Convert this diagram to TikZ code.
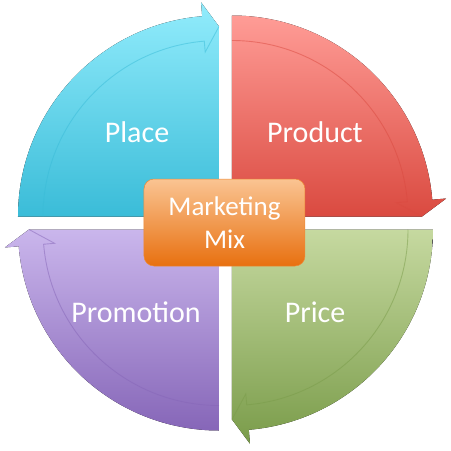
\documentclass[tikz,border=0pt]{standalone}
\usepackage{fontspec}
\setmainfont{Carlito}

\definecolor{placetop}{RGB}{146,236,252}
\definecolor{placebot}{RGB}{58,188,216}
\definecolor{producttop}{RGB}{255,156,150}
\definecolor{productbot}{RGB}{218,74,64}
\definecolor{pricetop}{RGB}{198,217,160}
\definecolor{pricebot}{RGB}{122,156,74}
\definecolor{promotop}{RGB}{202,182,236}
\definecolor{promobot}{RGB}{134,102,184}
\definecolor{mixtop}{RGB}{250,196,146}
\definecolor{mixbot}{RGB}{232,112,16}

\begin{document}
\begin{tikzpicture}[x=1pt,y=1pt,
    band/.style={line width=0.9pt, draw opacity=0.5},
    qtext/.style={text=white, anchor=base, font=\fontsize{30}{36}\selectfont},
    mixbox/.style={rounded corners=10pt, minimum width=161pt, minimum height=87pt,
      inner sep=0pt, top color=mixtop, bottom color=mixbot, draw=mixbot!70!mixtop,
      line width=0.5pt, text=white, align=center, font=\fontsize{27}{33}\selectfont}]
  \useasboundingbox (-225.5,-228) rectangle (225.5,223);

  % Place, top left
  \begin{scope}[shift={(-6.5,6.5)}]
    \fill[top color=placetop, bottom color=placebot] (0,0) -- (180:201pt)
      arc[start angle=180, end angle=94.8, radius=201pt] -- (94.8:215pt) -- (90:190pt) -- cycle;
    \draw[band, placebot] (180:176pt) arc[start angle=180, end angle=94.8, radius=176pt]
      -- (94.8:165pt) -- (90:190pt);
  \end{scope}

  % Product, top right
  \begin{scope}[shift={(6.5,6.5)}]
    \fill[top color=producttop, bottom color=productbot] (0,0) -- (90:201pt)
      arc[start angle=90, end angle=4.8, radius=201pt] -- (4.8:215pt) -- (0:190pt) -- cycle;
    \draw[band, productbot] (90:176pt) arc[start angle=90, end angle=4.8, radius=176pt]
      -- (4.8:165pt) -- (0:190pt);
  \end{scope}

  % Price, bottom right
  \begin{scope}[shift={(6.5,-6.5)}]
    \fill[top color=pricetop, bottom color=pricebot] (0,0) -- (0:201pt)
      arc[start angle=0, end angle=-85.2, radius=201pt] -- (-85.2:215pt) -- (-90:190pt) -- cycle;
    \draw[band, pricebot] (0:176pt) arc[start angle=0, end angle=-85.2, radius=176pt]
      -- (-85.2:165pt) -- (-90:190pt);
  \end{scope}

  % Promotion, bottom left
  \begin{scope}[shift={(-6.5,-6.5)}]
    \fill[top color=promotop, bottom color=promobot] (0,0) -- (270:201pt)
      arc[start angle=270, end angle=184.8, radius=201pt] -- (184.8:215pt) -- (180:190pt) -- cycle;
    \draw[band, promobot] (270:176pt) arc[start angle=270, end angle=184.8, radius=176pt]
      -- (184.8:165pt) -- (180:190pt);
  \end{scope}

  \node[qtext] (place)     at (-88.5,81)  {Place};
  \node[qtext] (product)   at (89.5,81)   {Product};
  \node[qtext] (promotion) at (-89.5,-99) {Promotion};
  \node[qtext] (price)     at (89.5,-99)  {Price};

  \node[mixbox] (mix) at (-1,0.5) {Marketing\\Mix};
\end{tikzpicture}
\end{document}
